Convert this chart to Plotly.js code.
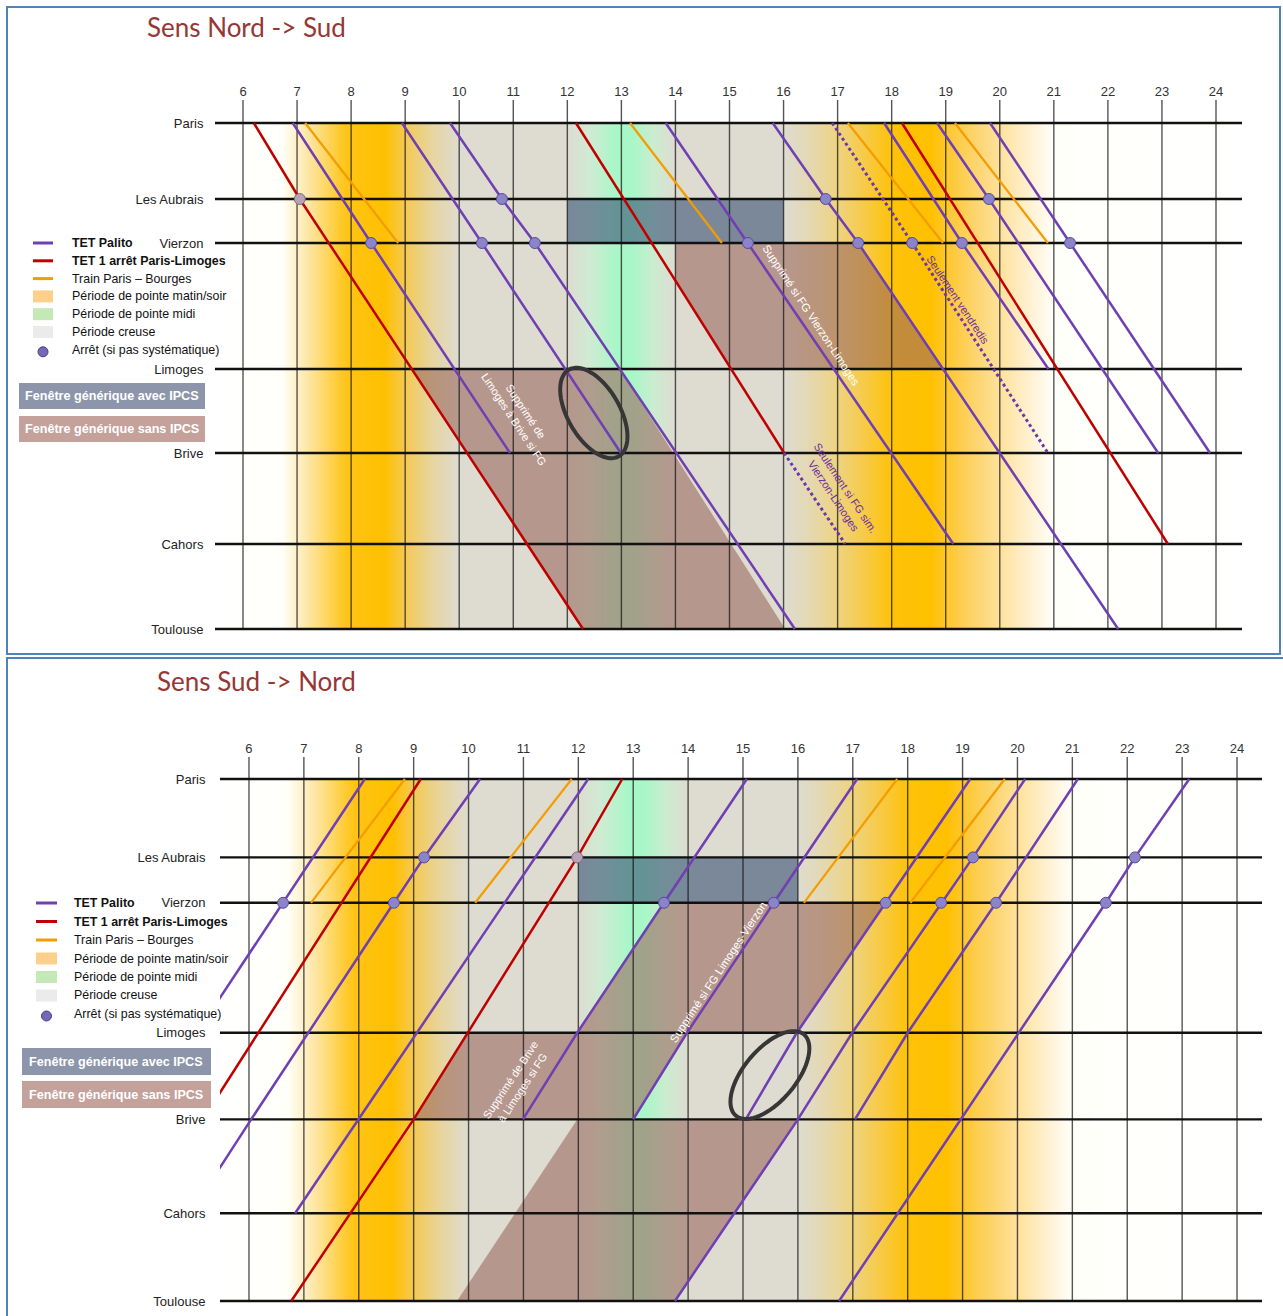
<!DOCTYPE html>
<html><head><meta charset="utf-8">
<script src="https://cdn.plot.ly/plotly-3.0.1.min.js"></script>
<style>html,body{margin:0;padding:0;background:#fff}#chart{width:1283px;height:1316px}</style>
</head><body><div id="chart"></div>
<script>
const W = 1283, H = 1316;

// ---------- axis values ----------
const hourTicks = [6,7,8,9,10,11,12,13,14,15,16,17,18,19,20,21,22,23,24];
const stations = ['Paris','Les Aubrais','Vierzon','Limoges','Brive','Cahors','Toulouse'];
const stationPos = [0, 76, 120, 246, 330, 421, 506];

// ---------- background periods (hour -> colour) ----------
const periodHours  = [5.4, 6.7, 7.2, 7.9, 8.6, 9.0, 9.5, 10.0, 12.0, 12.4, 12.9, 13.2, 13.6, 14.0, 16.0, 16.5, 17.0, 17.5, 18.0, 18.7, 19.1, 19.6, 20.1, 20.6, 21.0, 24.6];
const periodColors = ['#ffffff','#fffffa','#fde6a3','#ffc416','#ffc000','#f4c955','#e7d5a0','#dedcd1','#dedcd1','#cfebd3','#a8f7c8','#a8f7c8','#cbecd0','#dedcd1','#dedcd1','#e5d8ae','#eed37f','#f7ca45','#fec208','#ffc000','#fdc93a','#fdd674','#fee4a6','#fff2d6','#fffffa','#ffffff'];

// ---------- trains: [station index, hour, stop marker] ----------
// Sens Nord -> Sud
const palitoNS = [
  [[0,6.92],[2,8.37,1],[4,10.94]],
  [[0,8.94],[2,10.42,1],[4,12.99]],
  [[0,9.83],[1,10.79,1],[2,11.40,1],[6,16.21]],
  [[0,13.82],[2,15.34,1],[5,19.14]],
  [[0,15.80],[1,16.78,1],[2,17.38,1],[6,22.19]],
  [[0,17.86],[2,19.30,1],[3,20.90]],
  [[0,18.84],[1,19.80,1],[4,22.93]],
  [[0,19.82],[2,21.30,1],[4,23.89]]
];
const palitoDottedNS = [
  [[0,16.90],[2,18.38,1],[4,20.89]],
  [[4,16.01],[5,17.14]]
];
const tet1NS = [
  [[0,6.20],[1,7.05,1],[6,12.29]],
  [[0,12.16],[4,16.01]],
  [[0,18.19],[5,23.11]]
];
const bourgesNS = [
  [[0,7.15],[2,8.87]],
  [[0,13.16],[2,14.86]],
  [[0,17.19],[2,18.95]],
  [[0,19.17],[2,20.89]]
];
// Sens Sud -> Nord
const palitoSN = [
  [[3,5.05],[2,6.62,1],[0,8.11]],
  [[5,4.93],[4,6.04],[2,8.64,1],[1,9.19,1],[0,10.21]],
  [[5,6.84],[0,12.18]],
  [[4,10.99],[3,11.98],[2,13.56,1],[0,15.07]],
  [[4,13.00],[3,13.98],[2,15.56,1],[0,17.08]],
  [[4,15.05],[3,15.98],[2,17.60,1],[0,19.14]],
  [[6,13.76],[4,16.00],[3,16.99],[2,18.61,1],[1,19.19,1],[0,20.14]],
  [[6,16.75],[2,21.61,1],[1,22.14,1],[0,23.13]],
  [[4,17.04],[3,18.00],[2,19.61,1],[0,21.10]]
];
const tet1SN = [
  [[4,5.16],[0,9.13]],
  [[6,6.77],[4,9.00],[1,11.98,1],[0,12.80]]
];
const bourgesSN = [
  [[2,7.13],[0,8.84]],
  [[2,10.12],[0,11.88]],
  [[2,16.11],[0,17.81]],
  [[2,18.05],[0,19.77]]
];

// ---------- generic windows (hour / position corners) ----------
const fgAvecNS = [{h:[12,16,16,12], pos:[76,76,120,120]}];
const fgSansNS = [
  {h:[14.0,17.38,18.95,15.03,14.0], pos:[120,120,246,246,158]},
  {h:[9.12,12.97,16.03,12.29], pos:[246,246,506,506]}
];
const fgAvecSN = [{h:[12,16,16,12], pos:[76,76,120,120]}];
const fgSansSN = [
  {h:[13.56,17.60,15.98,11.98], pos:[120,120,246,246]},
  {h:[9.00,9.99,13.98,13.00], pos:[330,246,246,330]},
  {h:[9.79,13.76,16.00,11.98], pos:[506,506,330,330]}
];
// highlighted segments (ellipses): hour, position, half-axes (px), tilt (deg)
const highlightNS = {h:12.49, pos:290, a:50, b:26, tilt:30};
const highlightSN = {h:15.49, pos:287, a:53, b:26, tilt:-40};

// ---------- styles ----------
const PURPLE = '#6f3fb3', RED = '#c00000', ORANGE = '#f59c00';
const FONT = 'Liberation Sans, Arial, sans-serif';
const NARROW = 'Liberation Sans Narrow, Arial Narrow, Liberation Sans, sans-serif';

const panels = [
  {xa:'x', ya:'y', xdom:[215/W,1242/W], xr:[5.482,24.481], ydom:[1-640/H,1-100/H], yr:[517,-23], ticklen:8,
   palito:palitoNS, dotted:palitoDottedNS, tet1:tet1NS, bourges:bourgesNS, avec:fgAvecNS, sans:fgSansNS, hl:highlightNS},
  {xa:'x2', ya:'y2', xdom:[220/W,1262/W], xr:[5.472,24.455], ydom:[1-1312/H,1-757/H], yr:[516.7,-21.33], ticklen:11,
   palito:palitoSN, dotted:[], tet1:tet1SN, bourges:bourgesSN, avec:fgAvecSN, sans:fgSansSN, hl:highlightSN}
];

function trainXY(trains){
  const x=[],y=[];
  trains.forEach(t=>{ t.forEach(p=>{x.push(p[1]); y.push(stationPos[p[0]]);}); x.push(null); y.push(null); });
  return {x,y};
}
function stopXY(trains){
  const x=[],y=[];
  trains.forEach(t=>t.forEach(p=>{ if(p[2]){x.push(p[1]); y.push(stationPos[p[0]]);} }));
  return {x,y};
}

const traces = [];
const shapes = [];
const annotations = [];
const layout = {
  width:W, height:H, margin:{l:0,r:0,t:0,b:0},
  paper_bgcolor:'#ffffff', plot_bgcolor:'rgba(0,0,0,0)',
  showlegend:false, font:{family:FONT, size:13, color:'#222'}
};

panels.forEach((P,pi)=>{
  const sfx = pi===0 ? '' : '2';
  layout['xaxis'+sfx] = {domain:P.xdom, range:P.xr, anchor:P.ya, side:'top', tickmode:'array', tickvals:hourTicks,
    ticktext:hourTicks.map(String), showgrid:false, zeroline:false, showline:false, ticks:'', tickfont:{size:13,color:'#333',family:FONT}, fixedrange:true};
  layout['yaxis'+sfx] = {domain:P.ydom, range:P.yr, anchor:P.xa, tickmode:'array', tickvals:stationPos, ticktext:stations,
    showgrid:false, zeroline:false, showline:false, ticks:'outside', ticklen:P.ticklen, tickcolor:'rgba(0,0,0,0)', tickfont:{size:13,color:'#222',family:FONT}, fixedrange:true};

  // background gradient
  const zrow = periodHours.map((_,i)=>i);
  traces.push({type:'heatmap', xaxis:P.xa, yaxis:P.ya, x:periodHours, y:[0,0.5,505.5,506], z:[zrow,zrow,zrow,zrow],
    zmin:0, zmax:periodHours.length-1, zsmooth:'best', showscale:false, hoverinfo:'skip',
    colorscale: periodColors.map((c,i)=>[i/(periodColors.length-1), c])});

  // windows
  P.avec.forEach(w=>traces.push({type:'scatter', mode:'lines', xaxis:P.xa, yaxis:P.ya, x:w.h, y:w.pos, fill:'toself',
    fillcolor:'rgba(55,80,115,0.6)', line:{width:0}, hoverinfo:'skip'}));
  P.sans.forEach(w=>traces.push({type:'scatter', mode:'lines', xaxis:P.xa, yaxis:P.ya, x:w.h, y:w.pos, fill:'toself',
    fillcolor:'rgba(155,105,95,0.6)', line:{width:0}, hoverinfo:'skip'}));

  // grid
  const gtop = P.yr[1];
  const gx=[], gy=[];
  hourTicks.forEach(h=>{gx.push(h,h,null); gy.push(gtop, stationPos[6], null);});
  traces.push({type:'scatter', mode:'lines', xaxis:P.xa, yaxis:P.ya, x:gx, y:gy, line:{color:'rgba(20,20,20,0.72)', width:1.4}, hoverinfo:'skip'});
  const hx=[], hy=[];
  stationPos.forEach(s=>{hx.push(P.xr[0],P.xr[1],null); hy.push(s,s,null);});
  traces.push({type:'scatter', mode:'lines', xaxis:P.xa, yaxis:P.ya, x:hx, y:hy, line:{color:'#111', width:2.4}, hoverinfo:'skip'});

  // trains
  const ob = trainXY(P.bourges), rd = trainXY(P.tet1), pu = trainXY(P.palito), dt = trainXY(P.dotted);
  traces.push({type:'scatter', mode:'lines', xaxis:P.xa, yaxis:P.ya, x:ob.x, y:ob.y, line:{color:ORANGE, width:2.2}, hoverinfo:'skip'});
  traces.push({type:'scatter', mode:'lines', xaxis:P.xa, yaxis:P.ya, x:rd.x, y:rd.y, line:{color:RED, width:2.5}, hoverinfo:'skip'});
  traces.push({type:'scatter', mode:'lines', xaxis:P.xa, yaxis:P.ya, x:pu.x, y:pu.y, line:{color:PURPLE, width:2.5}, hoverinfo:'skip'});
  if (dt.x.length) traces.push({type:'scatter', mode:'lines', xaxis:P.xa, yaxis:P.ya, x:dt.x, y:dt.y, line:{color:'#6b3aa6', width:3, dash:'dot'}, hoverinfo:'skip'});
  // stops
  const rs = stopXY(P.tet1);
  const ps = stopXY(P.palito.concat(P.dotted));
  traces.push({type:'scatter', mode:'markers', xaxis:P.xa, yaxis:P.ya, x:rs.x, y:rs.y, marker:{size:11, color:'#b8a2b8', line:{color:'#7d6a86', width:1}}, hoverinfo:'skip'});
  traces.push({type:'scatter', mode:'markers', xaxis:P.xa, yaxis:P.ya, x:ps.x, y:ps.y, marker:{size:11, color:'#8c84c8', line:{color:'#574c9c', width:1}}, hoverinfo:'skip'});

  // ellipse highlight
  const pxPerH = (P.xdom[1]-P.xdom[0])*W/(P.xr[1]-P.xr[0]);
  const pxPerPos = (P.ydom[1]-P.ydom[0])*H/(P.yr[0]-P.yr[1]);
  const phi = P.hl.tilt*Math.PI/180;
  const m = [Math.sin(phi), Math.cos(phi)], n = [Math.cos(phi), -Math.sin(phi)];
  let path = '';
  for (let k=0;k<=72;k++){
    const t = k/72*2*Math.PI;
    const ox = P.hl.a*Math.cos(t)*m[0] + P.hl.b*Math.sin(t)*n[0];
    const oy = P.hl.a*Math.cos(t)*m[1] + P.hl.b*Math.sin(t)*n[1];
    path += (k===0?'M':'L') + (P.hl.h + ox/pxPerH).toFixed(4) + ',' + (P.hl.pos + oy/pxPerPos).toFixed(3);
  }
  shapes.push({type:'path', xref:P.xa, yref:P.ya, path:path+'Z', line:{color:'#363636', width:4}, layer:'above'});
});

// ---------- rotated notes ----------
const noteFont = (c,s)=>({family:NARROW, size:s, color:c});
annotations.push(
  {xref:'x', yref:'y', x:16.51, y:192, text:'Supprimé si FG Vierzon-Limoges', textangle:56.5, showarrow:false, font:noteFont('#ffffff',11.3)},
  {xref:'x', yref:'y', x:11.12, y:292, text:'Supprimé de<br>Limoges à Brive si FG', textangle:56.5, showarrow:false, font:noteFont('#ffffff',11)},
  {xref:'x', yref:'y', x:19.23, y:177, text:'Seulement vendredis', textangle:56.5, showarrow:false, font:noteFont('#6b2fa0',11)},
  {xref:'x', yref:'y', x:17.04, y:369, text:'Seulement si FG sim.<br>Vierzon-Limoges', textangle:56.5, showarrow:false, font:noteFont('#6b2fa0',11)},
  {xref:'x2', yref:'y2', x:10.88, y:295, text:'Supprimé de Brive<br>à Limoges si FG', textangle:-56.5, showarrow:false, font:noteFont('#ffffff',11)},
  {xref:'x2', yref:'y2', x:14.55, y:187, text:'Supprimé si FG Limoges-Vierzon', textangle:-56.5, showarrow:false, font:noteFont('#ffffff',11.3)}
);

// ---------- titles, frames, legends (paper coordinates) ----------
const px = v=>v/W, py = v=>1-v/H;
annotations.push(
  {xref:'paper', yref:'paper', x:px(145), y:py(27), xanchor:'left', yanchor:'middle', text:'Sens Nord -> Sud', showarrow:false, font:{family:'Lato, Open Sans, sans-serif', size:26, color:'#953735'}},
  {xref:'paper', yref:'paper', x:px(155), y:py(681), xanchor:'left', yanchor:'middle', text:'Sens Sud -> Nord', showarrow:false, font:{family:'Lato, Open Sans, sans-serif', size:26, color:'#953735'}}
);
shapes.push(
  {type:'rect', xref:'paper', yref:'paper', x0:px(7), x1:px(1280), y0:py(654), y1:py(7), line:{color:'#4f81bd', width:2}, layer:'below'},
  {type:'rect', xref:'paper', yref:'paper', x0:px(7), x1:px(1290), y0:py(1325), y1:py(658), line:{color:'#4f81bd', width:2}, layer:'below'}
);

const legendItems = [
  {kind:'line', color:PURPLE, text:'<b>TET Palito</b>'},
  {kind:'line', color:RED, text:'<b>TET 1 arrêt Paris-Limoges</b>'},
  {kind:'line', color:ORANGE, text:'Train Paris – Bourges'},
  {kind:'sq', color:'#fcd08a', text:'Période de pointe matin/soir'},
  {kind:'sq', color:'#c5e8b7', text:'Période de pointe midi'},
  {kind:'sq', color:'#ebebeb', text:'Période creuse'},
  {kind:'dot', color:'#7468b4', text:'Arrêt (si pas systématique)'}
];
const legendBoxes = [
  {color:'#8c95aa', text:'Fenêtre générique avec IPCS'},
  {color:'#c4a19b', text:'Fenêtre générique sans IPCS'}
];
const legendPlaces = [
  {x0:33, x1:53, tx:70, y0:243, dy:17.8, bx0:19, bx1:205, by:[383,416], bh:26},
  {x0:36, x1:57, tx:72, y0:903, dy:18.5, bx0:22, bx1:211, by:[1048,1081], bh:27}
];
legendPlaces.forEach(L=>{
  legendItems.forEach((it,i)=>{
    const y = L.y0 + i*L.dy;
    if (it.kind==='line') shapes.push({type:'line', xref:'paper', yref:'paper', x0:px(L.x0), x1:px(L.x1), y0:py(y), y1:py(y), line:{color:it.color, width:3}});
    else if (it.kind==='sq') shapes.push({type:'rect', xref:'paper', yref:'paper', x0:px(L.x0), x1:px(L.x1), y0:py(y+6), y1:py(y-6), fillcolor:it.color, line:{width:0}});
    else shapes.push({type:'circle', xref:'paper', yref:'paper', x0:px((L.x0+L.x1)/2-5), x1:px((L.x0+L.x1)/2+5), y0:py(y+7), y1:py(y-3), fillcolor:it.color, line:{color:'#4a3f8f', width:1}});
    annotations.push({xref:'paper', yref:'paper', x:px(L.tx), y:py(y), xanchor:'left', yanchor:'middle', text:it.text, showarrow:false, font:{family:NARROW, size:12.4, color:'#111'}});
  });
  legendBoxes.forEach((b,i)=>{
    const y0 = L.by[i];
    shapes.push({type:'rect', xref:'paper', yref:'paper', x0:px(L.bx0), x1:px(L.bx1), y0:py(y0+L.bh), y1:py(y0), fillcolor:b.color, line:{width:0}});
    annotations.push({xref:'paper', yref:'paper', x:px((L.bx0+L.bx1)/2), y:py(y0+L.bh/2), xanchor:'center', yanchor:'middle', text:'<b>'+b.text+'</b>', showarrow:false, font:{family:NARROW, size:12.6, color:'#ffffff'}});
  });
});

layout.shapes = shapes;
layout.annotations = annotations;
Plotly.newPlot('chart', traces, layout, {displayModeBar:false, staticPlot:true});
</script>
</body></html>
